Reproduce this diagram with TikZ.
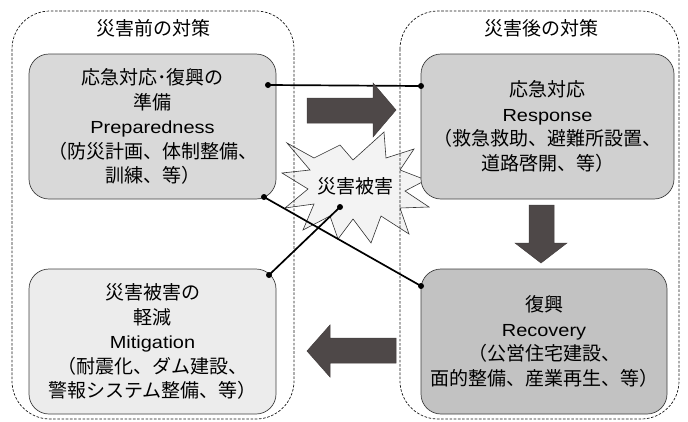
\documentclass[tikz,border=0pt]{standalone}
\usepackage{fontspec}
\newfontfamily\jp{Noto Sans CJK JP}
\newfontfamily\lat[FakeStretch=1.14]{Liberation Sans}
\newcommand{\en}[1]{{\lat\fontsize{17.5}{24.5}\selectfont #1}}
\definecolor{boxprep}{HTML}{D9D9D9}
\definecolor{boxresp}{HTML}{D0D0D0}
\definecolor{boxmiti}{HTML}{ECECEC}
\definecolor{boxreco}{HTML}{C2C2C2}
\definecolor{burstfill}{HTML}{F3F3F3}
\definecolor{arrowgray}{HTML}{4E4848}
\begin{document}
\begin{tikzpicture}[x=1pt,y=-1pt,
  zone/.style={draw=black!90, line width=0.7pt, dash pattern=on 2.6pt off 1.6pt, rounded corners=38pt},
  card/.style={draw=black!75, line width=0.7pt, rounded corners=20pt, inner sep=0pt, align=center,
               font=\jp\fontsize{19}{24.5}\selectfont, text=black},
  zonetitle/.style={font=\jp\fontsize{19}{24.5}\selectfont, inner sep=0pt},
  blockarrow/.style={fill=arrowgray, draw=arrowgray!85!black, line width=0.5pt},
  link/.style={line width=1.7pt, draw=black},
  dotmark/.style={fill=black},
  burst/.style={fill=burstfill, draw=black!80, line width=0.6pt}
]
\useasboundingbox (0,0) rectangle (688,421);

% explosion shape
\draw[burst] (287,143) -- (314,158) -- (340,145) -- (353,160) -- (384,132) -- (386,158)
  -- (414,149) -- (400,170) -- (426,180) -- (405,191) -- (429,207) -- (400,208)
  -- (409,234) -- (381,216) -- (371,243) -- (353,219) -- (338,239) -- (330,216)
  -- (303,230) -- (314,204) -- (285,208) -- (308,189) -- (282,173) -- (310,170) -- cycle;
\node[zonetitle] (dmg) at (355,186) {災害被害};

% zones
\draw[zone] (12,11) rectangle (294,419);
\draw[zone] (400,11) rectangle (679,419);
\node[zonetitle] (tpre) at (153,28) {災害前の対策};
\node[zonetitle] (tpost) at (541,28) {災害後の対策};

% boxes
\node[card, fill=boxprep, minimum width=247pt, minimum height=145pt] (prep) at (152.5,126.5)
  {応急対応･復興の\\準備\\\en{Preparedness}\\（防災計画、体制整備、\\訓練、等）};
\node[card, fill=boxresp, minimum width=253pt, minimum height=145pt] (resp) at (547.5,126.5)
  {応急対応\\\en{Response}\\（救急救助、避難所設置、\\道路啓開、等）};
\node[card, fill=boxmiti, minimum width=247pt, minimum height=145pt] (miti) at (152.5,341.5)
  {災害被害の\\軽減\\\en{Mitigation}\\（耐震化、ダム建設、\\警報システム整備、等）};
\node[card, fill=boxreco, minimum width=246pt, minimum height=145pt] (reco) at (544,341.5)
  {復興\\\en{Recovery}\\（公営住宅建設、\\面的整備、産業再生、等）};

% connector end points
\coordinate (prepA) at (268,85);
\coordinate (respA) at (421,86);
\coordinate (prepB) at (264,197);
\coordinate (recoA) at (421,286);
\coordinate (dmgA) at (340,207);
\coordinate (mitiA) at (269,275);

\draw[link] (prepA) -- (respA);
\draw[link] (prepB) -- (recoA);
\draw[link] (dmgA) -- (mitiA);
\foreach \p in {prepA,respA,prepB,recoA,dmgA,mitiA}
  \fill[dotmark] (\p) circle (3pt);

% block arrows
\draw[blockarrow] (307,98) -- (373,98) -- (373,83) -- (396,110) -- (373,137) -- (373,123) -- (307,123) -- cycle;
\draw[blockarrow] (529,205) -- (554,205) -- (554,243) -- (567,243) -- (541,263) -- (515,243) -- (529,243) -- cycle;
\draw[blockarrow] (396,338) -- (330,338) -- (330,325) -- (307,351) -- (330,377) -- (330,363) -- (396,363) -- cycle;
\end{tikzpicture}
\end{document}
